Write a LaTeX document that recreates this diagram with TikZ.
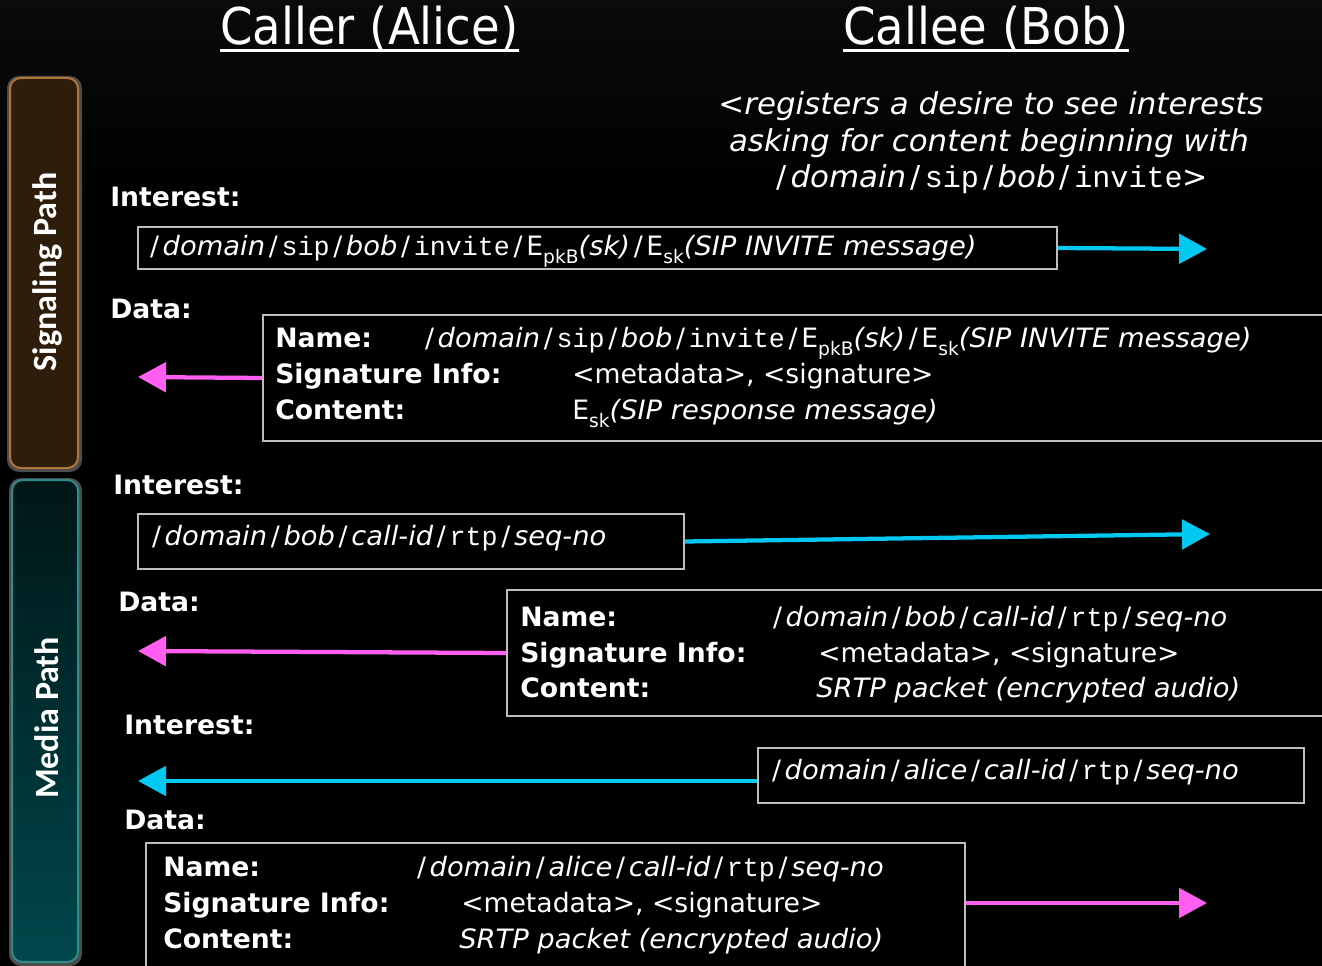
\documentclass[tikz,border=0pt]{standalone}
\usepackage{fontspec}
\setmainfont{DejaVu Sans}[ItalicFeatures={FakeStretch=1.025}]
\newfontfamily\monof{Liberation Mono}
\newfontfamily\hdfont[FakeStretch=0.92]{DejaVu Sans}
\newfontfamily\panelfont{Carlito}
\usetikzlibrary{arrows.meta}
\definecolor{bgtop}{HTML}{262626}
\definecolor{bgbot}{HTML}{101010}
\definecolor{boxline}{HTML}{BDBDBD}
\definecolor{cyanarr}{HTML}{00C8F0}
\definecolor{magarr}{HTML}{FF5EF0}
\definecolor{sigfill}{HTML}{2F1D0C}
\definecolor{sigline}{HTML}{B0743A}
\definecolor{medtop}{HTML}{001616}
\definecolor{medbot}{HTML}{00474C}
\definecolor{medline}{HTML}{2E8C8C}
\pgfdeclareverticalshading{bgshade}{100bp}{color(0bp)=(bgbot); color(12bp)=(black); color(65bp)=(black); color(100bp)=(bgtop)}
\newcommand\vi[1]{{\itshape #1}}
\newcommand\cm[1]{{\monof #1}}
\newcommand\slh{\hspace{0.14em}/\hspace{0.14em}}
\newcommand\lowsub[1]{\raisebox{-0.3em}{\fontsize{14pt}{14pt}\selectfont #1}}
\newcommand\sipname{\slh\vi{domain}\slh\cm{sip}\slh\vi{bob}\slh\cm{invite}\slh E\lowsub{pkB}\vi{(sk)}\slh E\lowsub{sk}\vi{(SIP INVITE message)}}
\newcommand\rtpname[1]{\slh\vi{domain}\slh\vi{#1}\slh\vi{call-id}\slh\cm{rtp}\slh\vi{seq-no}}
\tikzset{
  txt/.style={text=white, inner sep=0pt, anchor=base west, font=\fontsize{20pt}{24pt}\selectfont},
  lbl/.style={txt, font=\fontsize{20pt}{24pt}\selectfont\bfseries},
  ctr/.style={txt, anchor=base, font=\fontsize{22.6pt}{27pt}\selectfont},
  pktbox/.style={draw=boxline, line width=1.5pt, fill=black, anchor=north west, inner sep=0pt},
  cyanline/.style={draw=cyanarr, line width=3.2pt, -{Triangle[length=21pt,width=22pt]}},
  magline/.style={draw=magarr, line width=3.2pt, -{Triangle[length=21pt,width=22pt]}},
  hdr/.style={text=white, inner sep=0pt, anchor=base west, font=\hdfont\fontsize{38pt}{44pt}\selectfont},
  panellbl/.style={text=white, rotate=90, inner sep=0pt, font=\panelfont\bfseries\fontsize{25.5pt}{30pt}\selectfont},
}
\begin{document}
\begin{tikzpicture}[x=0.75pt,y=-0.75pt]
\useasboundingbox (0,0) rectangle (1322,966);
\clip (0,0) rectangle (1322,966);
\shade[shading=bgshade] (0,0) rectangle (1322,966);

% headers
\node[hdr] (h1) at (220,45) {Caller (Alice)};
\node[hdr] (h2) at (843,45) {Callee (Bob)};
\draw[white, line width=2.2pt] ([yshift=-4pt]h1.base west) -- ([yshift=-4pt]h1.base east);
\draw[white, line width=2.2pt] ([yshift=-4pt]h2.base west) -- ([yshift=-4pt]h2.base east);

% side panels
\fill[black!70, rounded corners=9pt] (7,76) rectangle (82,472);
\fill[sigfill, rounded corners=8pt] (10,78) rectangle (78,468);
\draw[sigline, line width=1.5pt, rounded corners=8pt] (10,78) rectangle (78,468);
\node[panellbl] (sp) at (47,272) {Signaling Path};
\fill[black!70, rounded corners=9pt] (9,478) rectangle (82,966);
\shade[top color=medtop, bottom color=medbot, rounded corners=8pt] (12,480) rectangle (78,962);
\draw[medline, line width=1.5pt, rounded corners=8pt] (12,480) rectangle (78,962);
\node[panellbl] (mp) at (47,718) {Media Path};

% comment
\node[ctr] (c1) at (991,115) {\vi{<registers a desire to see interests}};
\node[ctr] (c2) at (989,152) {\vi{asking for content beginning with}};
\node[ctr] (c3) at (990,188) {\slh\vi{domain}\slh\cm{sip}\slh\vi{bob}\slh\cm{invite}>};

% signaling interest
\node[lbl] (i1) at (110,207) {Interest:};
\node[pktbox, minimum width=919*0.75pt, minimum height=42*0.75pt] (b1) at (137,226) {};
\node[txt] (b1t) at (146,256) {\sipname};
\coordinate (a1) at (1207,249);
\draw[cyanline] (b1.east) -- (a1);

% signaling data
\node[lbl] (d1) at (110,319) {Data:};
\node[pktbox, minimum width=1080*0.75pt, minimum height=126*0.75pt] (b2) at (262,314) {};
\node[lbl] (b2n) at (275,348) {Name:};
\node[txt] (b2nv) at (421,348) {\sipname};
\node[lbl] (b2s) at (275,384) {Signature Info:};
\node[txt] (b2sv) at (572,384) {<metadata>, <signature>};
\node[lbl] (b2c) at (275,420) {Content:};
\node[txt] (b2cv) at (572,420) {E\lowsub{sk}\vi{(SIP response message)}};
\coordinate (a2) at (138,377);
\draw[magline] (b2.west) -- (a2);

% media interest (bob)
\node[lbl] (i2) at (113,494) {Interest:};
\node[pktbox, minimum width=546*0.75pt, minimum height=55*0.75pt] (b3) at (137,513) {};
\node[txt] (b3t) at (148,545) {\rtpname{bob}};
\coordinate (a3) at (1210,534);
\draw[cyanline] (b3.east) -- (a3);

% media data (bob)
\node[lbl] (d2) at (118,611) {Data:};
\node[pktbox, minimum width=836*0.75pt, minimum height=126*0.75pt] (b4) at (506,589) {};
\node[lbl] (b4n) at (520,626) {Name:};
\node[txt] (b4nv) at (769,626) {\rtpname{bob}};
\node[lbl] (b4s) at (520,662) {Signature Info:};
\node[txt] (b4sv) at (818,662) {<metadata>, <signature>};
\node[lbl] (b4c) at (520,697) {Content:};
\node[txt] (b4cv) at (816,697) {\vi{SRTP packet (encrypted audio)}};
\coordinate (a4) at (138,651);
\draw[magline] (b4.west) -- (a4);

% media interest (alice)
\node[lbl] (i3) at (124,734) {Interest:};
\node[pktbox, minimum width=546*0.75pt, minimum height=55*0.75pt] (b5) at (757,747) {};
\node[txt] (b5t) at (768,779) {\rtpname{alice}};
\coordinate (a5) at (138,781);
\draw[cyanline] (b5.west |- a5) -- (a5);

% media data (alice)
\node[lbl] (d3) at (124,829) {Data:};
\node[pktbox, minimum width=819*0.75pt, minimum height=150*0.75pt] (b6) at (145,842) {};
\node[lbl] (b6n) at (163,876) {Name:};
\node[txt] (b6nv) at (413,876) {\rtpname{alice}};
\node[lbl] (b6s) at (163,912) {Signature Info:};
\node[txt] (b6sv) at (461,912) {<metadata>, <signature>};
\node[lbl] (b6c) at (163,948) {Content:};
\node[txt] (b6cv) at (459,948) {\vi{SRTP packet (encrypted audio)}};
\coordinate (a6) at (1207,903);
\draw[magline] (b6.east |- a6) -- (a6);
\end{tikzpicture}
\end{document}
